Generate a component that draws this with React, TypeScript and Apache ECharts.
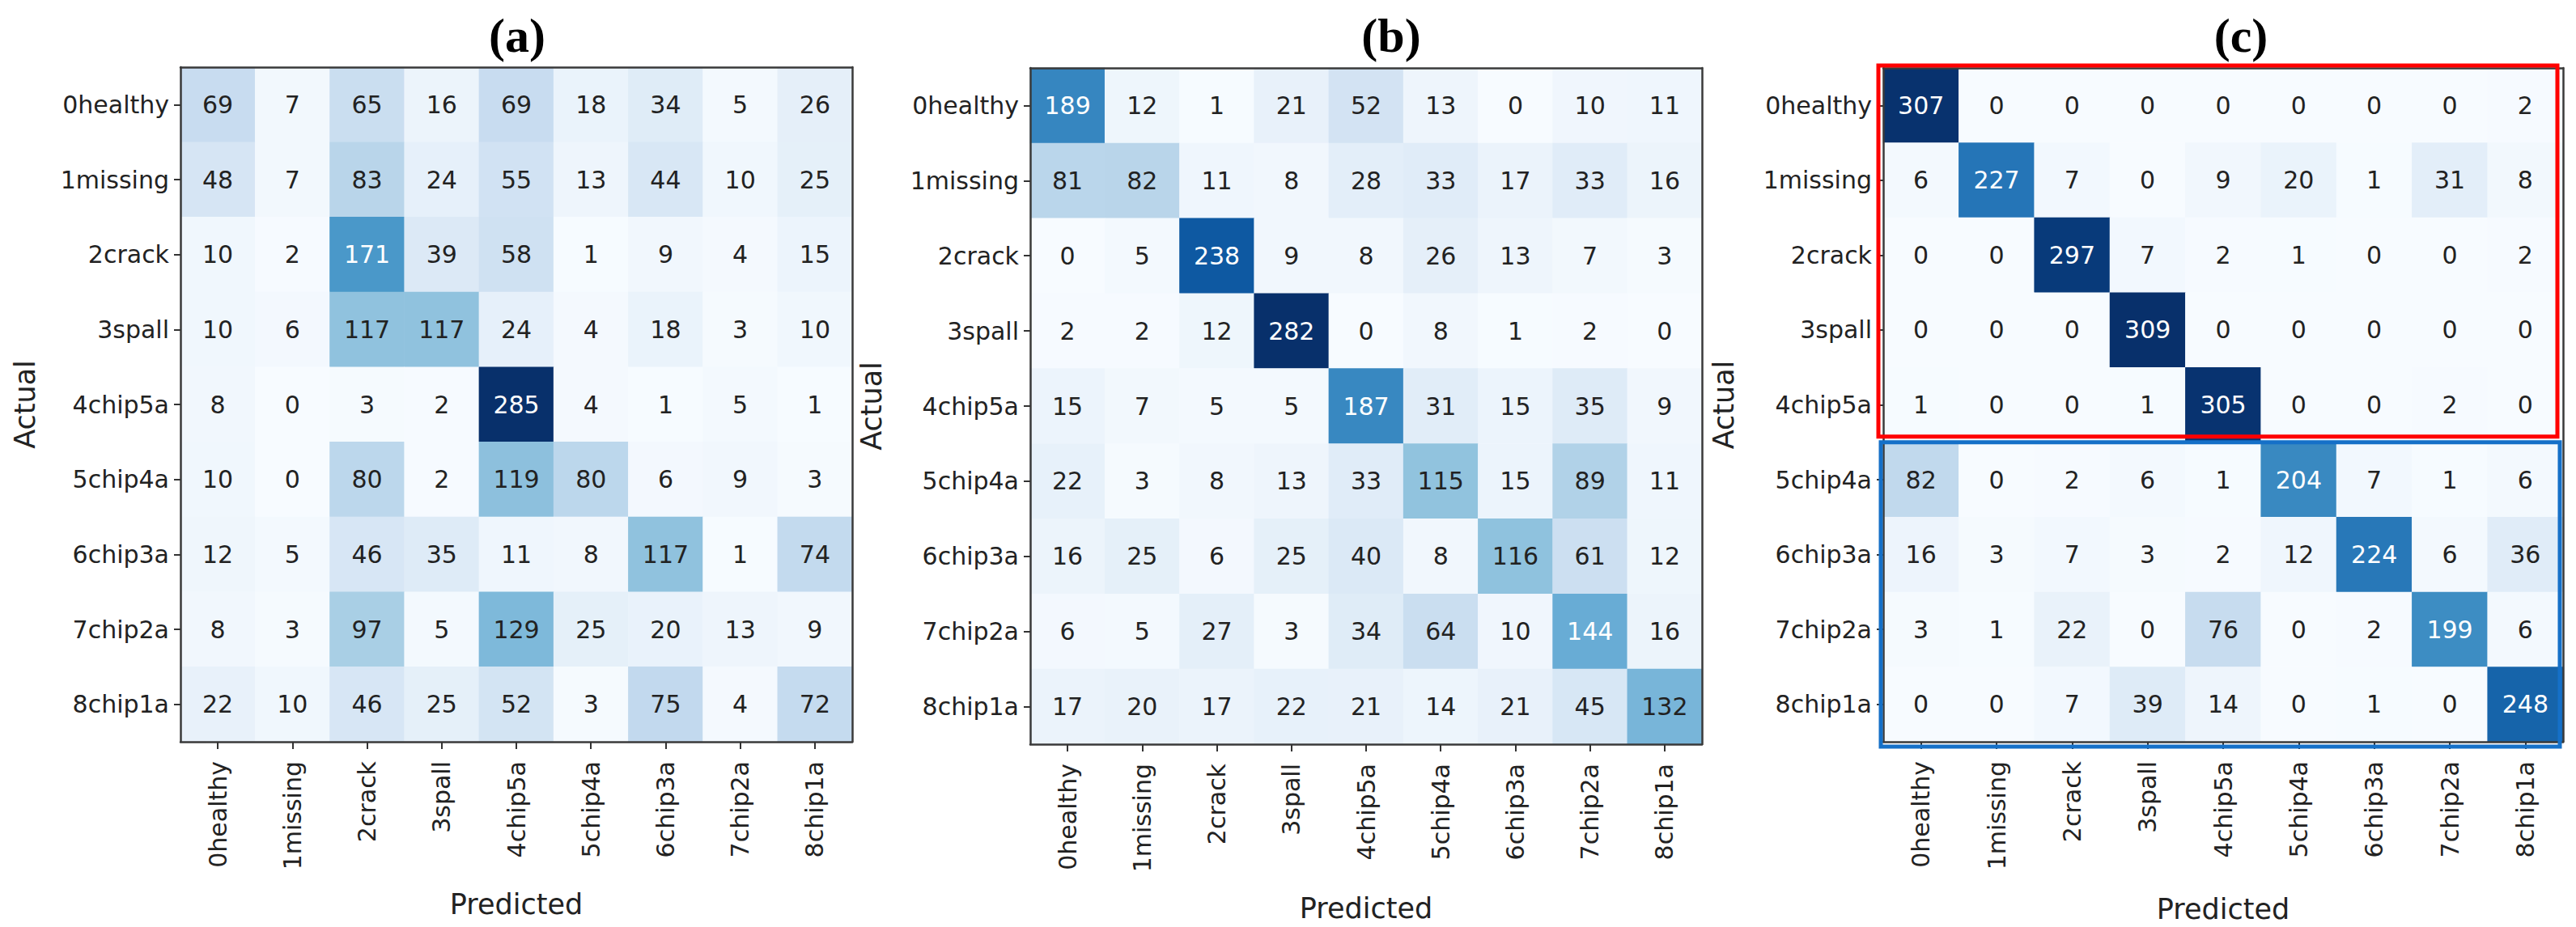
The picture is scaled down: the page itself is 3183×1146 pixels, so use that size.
import React, { useEffect, useRef } from 'react';
import * as echarts from 'echarts';

// ---------------- data ----------------
const classes = ['0healthy', '1missing', '2crack', '3spall', '4chip5a', '5chip4a', '6chip3a', '7chip2a', '8chip1a'];

const matrixA = [
  [69, 7, 65, 16, 69, 18, 34, 5, 26],
  [48, 7, 83, 24, 55, 13, 44, 10, 25],
  [10, 2, 171, 39, 58, 1, 9, 4, 15],
  [10, 6, 117, 117, 24, 4, 18, 3, 10],
  [8, 0, 3, 2, 285, 4, 1, 5, 1],
  [10, 0, 80, 2, 119, 80, 6, 9, 3],
  [12, 5, 46, 35, 11, 8, 117, 1, 74],
  [8, 3, 97, 5, 129, 25, 20, 13, 9],
  [22, 10, 46, 25, 52, 3, 75, 4, 72],
];

const matrixB = [
  [189, 12, 1, 21, 52, 13, 0, 10, 11],
  [81, 82, 11, 8, 28, 33, 17, 33, 16],
  [0, 5, 238, 9, 8, 26, 13, 7, 3],
  [2, 2, 12, 282, 0, 8, 1, 2, 0],
  [15, 7, 5, 5, 187, 31, 15, 35, 9],
  [22, 3, 8, 13, 33, 115, 15, 89, 11],
  [16, 25, 6, 25, 40, 8, 116, 61, 12],
  [6, 5, 27, 3, 34, 64, 10, 144, 16],
  [17, 20, 17, 22, 21, 14, 21, 45, 132],
];

const matrixC = [
  [307, 0, 0, 0, 0, 0, 0, 0, 2],
  [6, 227, 7, 0, 9, 20, 1, 31, 8],
  [0, 0, 297, 7, 2, 1, 0, 0, 2],
  [0, 0, 0, 309, 0, 0, 0, 0, 0],
  [1, 0, 0, 1, 305, 0, 0, 2, 0],
  [82, 0, 2, 6, 1, 204, 7, 1, 6],
  [16, 3, 7, 3, 2, 12, 224, 6, 36],
  [3, 1, 22, 0, 76, 0, 2, 199, 6],
  [0, 0, 7, 39, 14, 0, 1, 0, 248],
];

const panelTitles = ['(a)', '(b)', '(c)'];
const xAxisTitle = 'Predicted';
const yAxisTitle = 'Actual';

// highlighted regions in panel (c): [colStart, rowStart, colEnd, rowEnd]
const boxRegionsC = [
  [0, 0, 8, 4],
  [0, 5, 8, 8],
];

// ---------------- styles / layout ----------------
const boxColors = ['#ff0000', '#1570c8'];
const boxInsets = [
  { l: -6, t: -3, r: -7, b: -7 },
  { l: -3, t: 0, r: -4, b: 6 },
];

const BLUES = ['#f7fbff', '#deebf7', '#c6dbef', '#9ecae1', '#6baed6', '#4292c6', '#2171b5', '#08519c', '#08306b'];
const FONT = '"DejaVu Sans", Verdana, sans-serif';
const TEXT = '#222';

const panels = [
  { grid: { left: 223, top: 83, width: 830, height: 834 }, titleX: 639, xNameGap: 183, yNameGap: 175 },
  { grid: { left: 1273, top: 84, width: 830, height: 836 }, titleX: 1719, xNameGap: 185, yNameGap: 179 },
  { grid: { left: 2327, top: 84, width: 840, height: 838 }, titleX: 2769, xNameGap: 189, yNameGap: 180 },
];
const matrices = [matrixA, matrixB, matrixC];

function buildOption() {
  const grids: any[] = [];
  const xAxes: any[] = [];
  const yAxes: any[] = [];
  const series: any[] = [];
  const visualMaps: any[] = [];
  const graphics: any[] = [];

  const spine = { show: true, onZero: false, lineStyle: { color: '#3a3a3a', width: 2.5 } };

  panels.forEach((p, i) => {
    const m = matrices[i];
    const maxV = Math.max(...m.map((r) => Math.max(...r)));
    grids.push({ ...p.grid, containLabel: false });

    xAxes.push({
      type: 'category',
      gridIndex: i,
      data: classes,
      position: 'bottom',
      z: 10,
      name: xAxisTitle,
      nameLocation: 'middle',
      nameGap: p.xNameGap,
      nameTextStyle: { fontSize: 35, fontFamily: FONT, color: TEXT },
      axisLine: spine,
      axisTick: { show: true, alignWithLabel: true, length: 9, lineStyle: { color: '#333', width: 2 } },
      axisLabel: { rotate: 90, margin: 24, interval: 0, fontSize: 30, fontFamily: FONT, color: TEXT },
      splitLine: { show: false },
      splitArea: { show: false },
    });
    xAxes.push({
      type: 'category',
      gridIndex: i,
      data: classes,
      position: 'top',
      z: 10,
      axisLine: spine,
      axisTick: { show: false },
      axisLabel: { show: false },
      splitLine: { show: false },
    });
    yAxes.push({
      type: 'category',
      gridIndex: i,
      data: classes,
      inverse: true,
      position: 'left',
      z: 10,
      name: yAxisTitle,
      nameLocation: 'middle',
      nameGap: p.yNameGap,
      nameRotate: 90,
      nameTextStyle: { fontSize: 35, fontFamily: FONT, color: TEXT },
      axisLine: spine,
      axisTick: { show: true, alignWithLabel: true, length: 8, lineStyle: { color: '#333', width: 2 } },
      axisLabel: { margin: 14, interval: 0, fontSize: 30, fontFamily: FONT, color: TEXT },
      splitLine: { show: false },
      splitArea: { show: false },
    });
    yAxes.push({
      type: 'category',
      gridIndex: i,
      data: classes,
      inverse: true,
      position: 'right',
      z: 10,
      axisLine: spine,
      axisTick: { show: false },
      axisLabel: { show: false },
      splitLine: { show: false },
    });

    const data: any[] = [];
    m.forEach((row, r) =>
      row.forEach((v, c) => {
        data.push({ value: [c, r, v], label: { color: v > maxV / 2 ? '#ffffff' : TEXT } });
      })
    );
    series.push({
      type: 'heatmap',
      xAxisIndex: 2 * i,
      yAxisIndex: 2 * i,
      data,
      label: {
        show: true,
        fontSize: 30,
        fontFamily: FONT,
        formatter: (pp: any) => String(pp.value[2]),
      },
      emphasis: { disabled: true },
    });
    visualMaps.push({
      type: 'continuous',
      show: false,
      seriesIndex: i,
      dimension: 2,
      min: 0,
      max: maxV,
      inRange: { color: BLUES },
    });

    graphics.push({
      type: 'text',
      x: p.titleX,
      y: 44,
      style: {
        text: panelTitles[i],
        fontFamily: '"Liberation Serif", "Times New Roman", serif',
        fontWeight: 'bold',
        fontSize: 60,
        fill: '#000',
        align: 'center',
        verticalAlign: 'middle',
      },
    });
  });

  series.push({
    type: 'custom',
    xAxisIndex: 4,
    yAxisIndex: 4,
    z: 20,
    silent: true,
    data: boxRegionsC.map((reg, k) => ({ value: reg, itemStyle: { color: boxColors[k] } })),
    renderItem: (params: any, api: any) => {
      const a = api.coord([api.value(0), api.value(1)]);
      const b = api.coord([api.value(2), api.value(3)]);
      const s = api.size([1, 1]);
      const ins = boxInsets[params.dataIndex];
      const x0 = a[0] - s[0] / 2 + ins.l;
      const y0 = a[1] - s[1] / 2 + ins.t;
      const x1 = b[0] + s[0] / 2 + ins.r;
      const y1 = b[1] + s[1] / 2 + ins.b;
      return {
        type: 'rect',
        shape: { x: x0, y: y0, width: x1 - x0, height: y1 - y0 },
        style: { fill: 'none', stroke: api.visual('color'), lineWidth: 5 },
      };
    },
  });

  return {
    animation: false,
    backgroundColor: '#ffffff',
    grid: grids,
    xAxis: xAxes,
    yAxis: yAxes,
    visualMap: visualMaps,
    series,
    graphic: graphics,
  };
}

export default function App() {
  const ref = useRef<HTMLDivElement>(null);
  useEffect(() => {
    if (!ref.current) return;
    const chart = echarts.init(ref.current, undefined, { renderer: 'svg' });
    chart.setOption(buildOption() as any);
    return () => chart.dispose();
  }, []);
  return (
    <div
      ref={ref}
      style={{ position: 'fixed', left: 0, top: 0, width: '3183px', height: '1146px', background: '#fff' }}
    />
  );
}
